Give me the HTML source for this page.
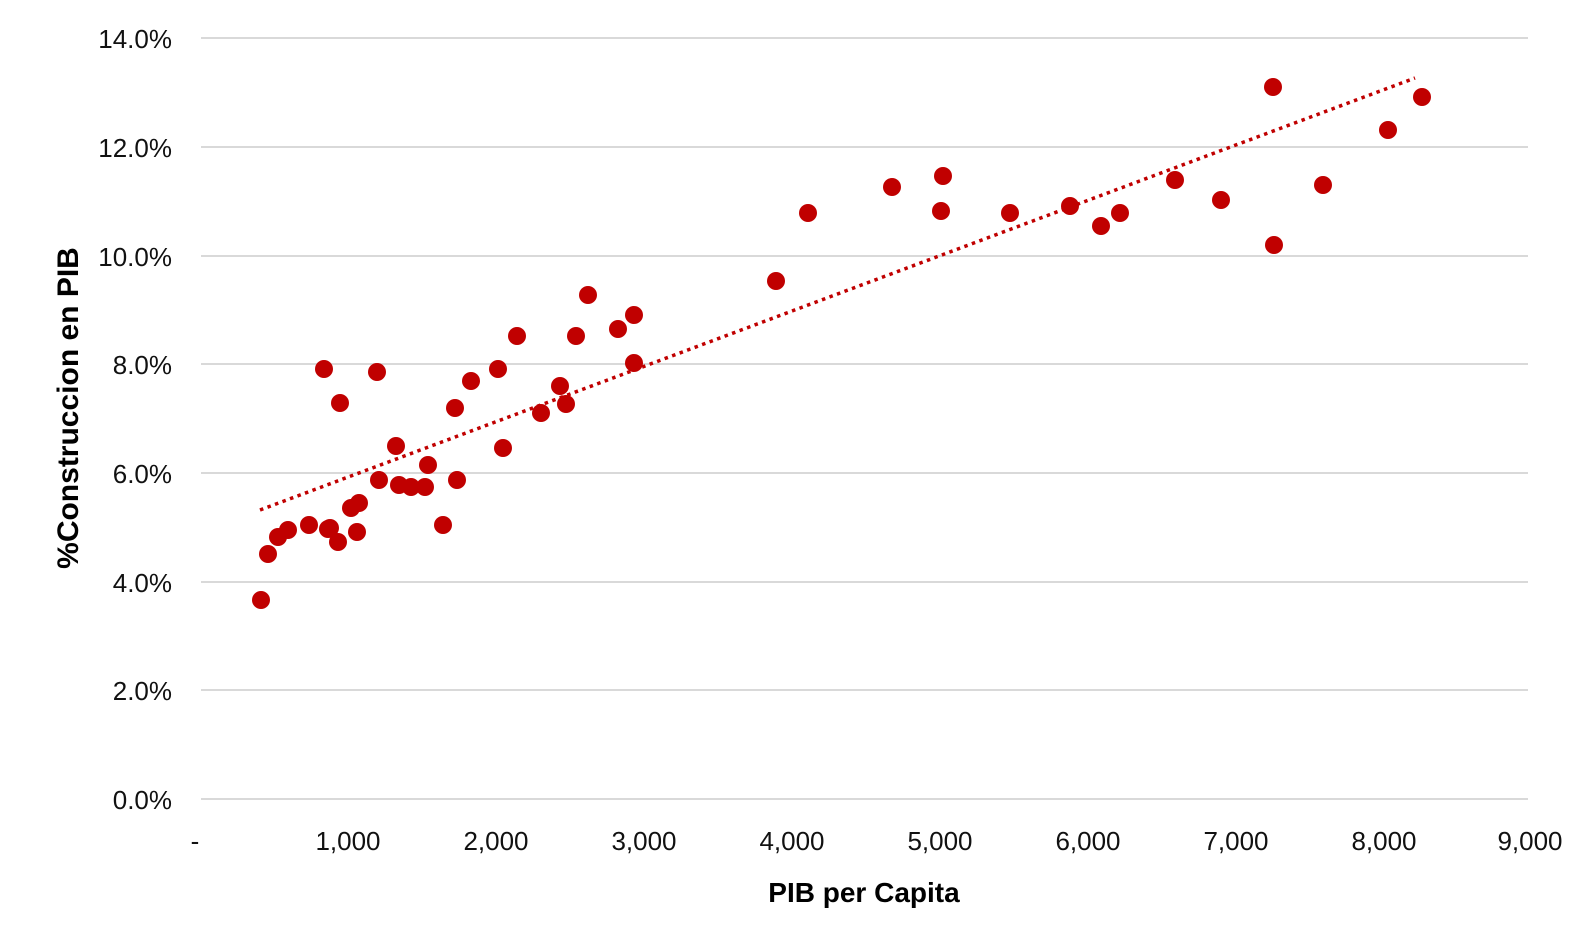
<!DOCTYPE html>
<html><head><meta charset="utf-8"><style>
html,body{margin:0;padding:0;background:#fff;}
svg{display:block;font-family:"Liberation Sans",Calibri,sans-serif;}
</style></head><body>
<svg width="1576" height="934" viewBox="0 0 1576 934" xmlns="http://www.w3.org/2000/svg">
<g stroke="#d9d9d9" stroke-width="2">
<line x1="201" y1="38" x2="1528" y2="38"/>
<line x1="201" y1="147" x2="1528" y2="147"/>
<line x1="201" y1="256" x2="1528" y2="256"/>
<line x1="201" y1="364" x2="1528" y2="364"/>
<line x1="201" y1="473" x2="1528" y2="473"/>
<line x1="201" y1="582" x2="1528" y2="582"/>
<line x1="201" y1="690" x2="1528" y2="690"/>
<line x1="201" y1="799" x2="1528" y2="799"/>
</g>
<g font-size="26" fill="#111" text-anchor="end">
<text x="172" y="48">14.0%</text>
<text x="172" y="157">12.0%</text>
<text x="172" y="266">10.0%</text>
<text x="172" y="374">8.0%</text>
<text x="172" y="483">6.0%</text>
<text x="172" y="592">4.0%</text>
<text x="172" y="700">2.0%</text>
<text x="172" y="809">0.0%</text>
</g>
<g font-size="26" fill="#111" text-anchor="middle">
<text x="195" y="850">-</text>
<text x="348" y="850">1,000</text>
<text x="496" y="850">2,000</text>
<text x="644" y="850">3,000</text>
<text x="792" y="850">4,000</text>
<text x="940" y="850">5,000</text>
<text x="1088" y="850">6,000</text>
<text x="1236" y="850">7,000</text>
<text x="1384" y="850">8,000</text>
<text x="1530" y="850">9,000</text>
</g>
<text x="864" y="902" font-size="28" font-weight="bold" text-anchor="middle" fill="#000">PIB per Capita</text>
<text transform="translate(78,408) rotate(-90)" font-size="30" font-weight="bold" text-anchor="middle" fill="#000">%Construccion en PIB</text>
<g fill="#c00000">
<circle cx="261" cy="600" r="9"/><circle cx="268" cy="554" r="9"/><circle cx="278" cy="537" r="9"/><circle cx="288" cy="530" r="9"/><circle cx="309" cy="525" r="9"/><circle cx="324" cy="369" r="9"/><circle cx="328" cy="529" r="9"/><circle cx="330" cy="528" r="9"/><circle cx="338" cy="542" r="9"/><circle cx="340" cy="403" r="9"/><circle cx="351" cy="508" r="9"/><circle cx="357" cy="532" r="9"/><circle cx="359" cy="503" r="9"/><circle cx="377" cy="372" r="9"/><circle cx="379" cy="480" r="9"/><circle cx="396" cy="446" r="9"/><circle cx="399" cy="485" r="9"/><circle cx="411" cy="487" r="9"/><circle cx="425" cy="487" r="9"/><circle cx="428" cy="465" r="9"/><circle cx="443" cy="525" r="9"/><circle cx="455" cy="408" r="9"/><circle cx="457" cy="480" r="9"/><circle cx="471" cy="381" r="9"/><circle cx="498" cy="369" r="9"/><circle cx="503" cy="448" r="9"/><circle cx="517" cy="336" r="9"/><circle cx="541" cy="413" r="9"/><circle cx="560" cy="386" r="9"/><circle cx="566" cy="404" r="9"/><circle cx="576" cy="336" r="9"/><circle cx="588" cy="295" r="9"/><circle cx="618" cy="329" r="9"/><circle cx="634" cy="315" r="9"/><circle cx="634" cy="363" r="9"/><circle cx="776" cy="281" r="9"/><circle cx="808" cy="213" r="9"/><circle cx="892" cy="187" r="9"/><circle cx="941" cy="211" r="9"/><circle cx="943" cy="176" r="9"/><circle cx="1010" cy="213" r="9"/><circle cx="1070" cy="206" r="9"/><circle cx="1101" cy="226" r="9"/><circle cx="1120" cy="213" r="9"/><circle cx="1175" cy="180" r="9"/><circle cx="1221" cy="200" r="9"/><circle cx="1273" cy="87" r="9"/><circle cx="1274" cy="245" r="9"/><circle cx="1323" cy="185" r="9"/><circle cx="1388" cy="130" r="9"/><circle cx="1422" cy="97" r="9"/>
</g>
<line x1="260" y1="510" x2="1415" y2="78" stroke="#c00000" stroke-width="3.5" stroke-dasharray="3.5 4.5"/>
</svg>
</body></html>
